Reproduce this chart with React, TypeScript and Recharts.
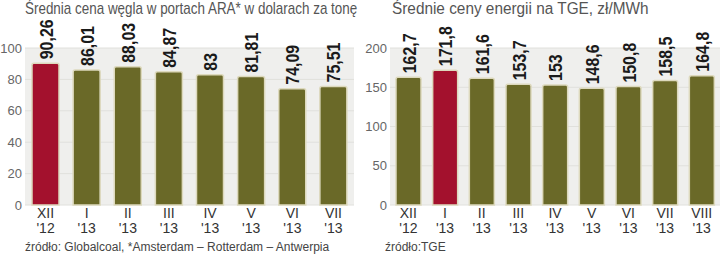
import { BarChart, Bar, XAxis, YAxis, CartesianGrid, Cell, LabelList } from 'recharts'

const coalMonths = ['XII', 'I', 'II', 'III', 'IV', 'V', 'VI', 'VII']
const coalYears = ["'12", "'13", "'13", "'13", "'13", "'13", "'13", "'13"]
const coalPrices = [90.26, 86.01, 88.03, 84.87, 83, 81.81, 74.09, 75.51]
const coalTicks = [0, 20, 40, 60, 80, 100]
const coalHighlight = 0

const energyMonths = ['XII', 'I', 'II', 'III', 'IV', 'V', 'VI', 'VII', 'VIII']
const energyYears = ["'12", "'13", "'13", "'13", "'13", "'13", "'13", "'13", "'13"]
const energyPrices = [162.7, 171.8, 161.6, 153.7, 153, 148.6, 150.8, 158.5, 164.8]
const energyTicks = [0, 50, 100, 150, 200]
const energyHighlight = 1

const OLIVE = '#6a6928'
const RED = '#a3112d'
const SANS = "'Liberation Sans', Arial, sans-serif"

const fmt = (v: number) => String(v).replace('.', ',')

function MonthTick(props: any) {
  const { x, y, payload } = props
  const [m, yr] = String(payload.value).split('|')
  return (
    <g>
      <text x={x} y={y + 13} textAnchor="middle" fontFamily={SANS} fontSize={14} fill="#333">
        {m}
      </text>
      <text x={x} y={y + 28} textAnchor="middle" fontFamily={SANS} fontSize={14} fill="#333">
        {yr}
      </text>
    </g>
  )
}

// bold, squeezed horizontally to mimic the condensed face
function ValueLabel(props: any) {
  const { x, y, width, value } = props
  const cx = x + width / 2
  return (
    <text
      transform={`translate(${cx + 7},${y - 4}) rotate(-90) scale(0.84,1)`}
      textAnchor="start"
      fontFamily={SANS}
      fontWeight="bold"
      fontSize={19}
      fill="#1a1a1a"
    >
      {fmt(value)}
    </text>
  )
}

function PriceChart({
  months,
  years,
  values,
  ticks,
  highlight,
  barSize,
  yWidth,
  right,
}: {
  months: string[]
  years: string[]
  values: number[]
  ticks: number[]
  highlight: number
  barSize: number
  yWidth: number
  right: number
}) {
  const data = months.map((m, i) => ({ name: `${m}|${years[i]}`, value: values[i] }))
  return (
    <BarChart width={360} height={254} data={data} margin={{ top: 48, right, bottom: 0, left: 0 }}>
      <CartesianGrid vertical={false} stroke="#e0e0dc" fill="#efefed" />
      <XAxis
        dataKey="name"
        axisLine={false}
        tickLine={false}
        tickSize={0}
        tickMargin={0}
        height={49}
        interval={0}
        tick={<MonthTick />}
      />
      <YAxis
        domain={[0, ticks[ticks.length - 1]]}
        ticks={ticks}
        axisLine={false}
        tickLine={false}
        tickSize={0}
        tickMargin={3}
        width={yWidth}
        tick={{ fill: '#666', fontSize: 13, fontFamily: SANS }}
      />
      <Bar
        dataKey="value"
        barSize={barSize}
        stroke="#ddd9bd"
        strokeWidth={1.5}
        radius={[2, 2, 0, 0]}
        isAnimationActive={false}
      >
        {data.map((_, i) => (
          <Cell key={i} fill={i === highlight ? RED : OLIVE} />
        ))}
        <LabelList dataKey="value" content={<ValueLabel />} />
      </Bar>
    </BarChart>
  )
}

function Captions({ title, titleX, squeeze, source, sourceX }: {
  title: string
  titleX: number
  squeeze: number
  source: string
  sourceX: number
}) {
  return (
    <svg width={360} height={254} style={{ position: 'absolute', left: 0, top: 0, pointerEvents: 'none' }}>
      <text
        transform={`translate(${titleX},14) scale(${squeeze},1)`}
        fontFamily={SANS}
        fontSize={16}
        fill="#555"
      >
        {title}
      </text>
      <text x={sourceX} y={251} fontFamily={SANS} fontSize={12} fill="#444">
        {source}
      </text>
    </svg>
  )
}

export default function App() {
  return (
    <div
      style={{
        position: 'absolute',
        left: 0,
        top: 0,
        width: 720,
        height: 254,
        overflow: 'hidden',
        background: '#fff',
      }}
    >
      <div style={{ position: 'absolute', left: 0, top: 0, width: 360, height: 254, overflow: 'hidden' }}>
        <PriceChart
          months={coalMonths}
          years={coalYears}
          values={coalPrices}
          ticks={coalTicks}
          highlight={coalHighlight}
          barSize={27}
          yWidth={25}
          right={6}
        />
        <Captions
          title="Średnia cena węgla w portach ARA* w dolarach za tonę"
          titleX={25}
          squeeze={0.84}
          source="źródło: Globalcoal, *Amsterdam – Rotterdam – Antwerpia"
          sourceX={25}
        />
      </div>
      <div style={{ position: 'absolute', left: 360, top: 0, width: 360, height: 254 }}>
        <PriceChart
          months={energyMonths}
          years={energyYears}
          values={energyPrices}
          ticks={energyTicks}
          highlight={energyHighlight}
          barSize={25}
          yWidth={30}
          right={0}
        />
        <Captions
          title="Średnie ceny energii na TGE, zł/MWh"
          titleX={32}
          squeeze={0.96}
          source="źródło:TGE"
          sourceX={25}
        />
      </div>
    </div>
  )
}
